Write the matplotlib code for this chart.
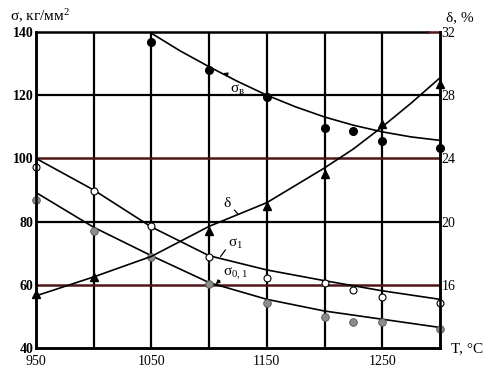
import matplotlib
matplotlib.use("Agg")
import matplotlib.pyplot as plt
import numpy as np

plt.rcParams['font.family'] = ['Liberation Serif', 'DejaVu Serif']
plt.rcParams['mathtext.fontset'] = 'custom'
plt.rcParams['mathtext.rm'] = 'Liberation Serif'
plt.rcParams['mathtext.it'] = 'Liberation Serif'
plt.rcParams['mathtext.bf'] = 'Liberation Serif:bold'

# ---- data ----
# sigma_B (ultimate strength), black filled circles, left axis
sb_T = [1050, 1100, 1150, 1200, 1225, 1250, 1300]
sb_v = [136.8, 128.0, 119.5, 109.6, 108.7, 105.4, 103.3]
sb_curve_T = [1050, 1075, 1100, 1125, 1150, 1175, 1200, 1225, 1250, 1275, 1300]
sb_curve_v = [139.6, 134.0, 129.0, 124.3, 120.0, 116.3, 113.1, 110.5, 108.4, 106.8, 105.7]

# delta (elongation, %), triangles, right axis
d_T = [950, 1000, 1100, 1150, 1200, 1250, 1300]
d_v = [15.4, 16.5, 19.4, 21.0, 23.0, 26.2, 28.7]
d_curve_T = [950, 1000, 1050, 1100, 1150, 1200, 1225, 1250, 1275, 1300]
d_curve_v = [15.3, 16.5, 17.8, 19.7, 21.2, 23.4, 24.6, 26.0, 27.5, 29.1]

# sigma_1, open circles, left axis
s1_T = [950, 1000, 1050, 1100, 1150, 1200, 1225, 1250, 1300]
s1_v = [97.2, 89.6, 78.7, 68.7, 62.3, 60.7, 58.3, 56.2, 54.1]
s1_curve_T = [950, 1000, 1050, 1100, 1150, 1200, 1250, 1300]
s1_curve_v = [100.0, 90.0, 78.3, 69.2, 64.7, 61.3, 58.1, 55.4]

# sigma_0.1, grey circles, left axis
s01_T = [950, 1000, 1050, 1100, 1150, 1200, 1225, 1250, 1300]
s01_v = [86.7, 76.9, 68.7, 60.4, 54.1, 49.8, 48.3, 48.3, 46.0]
s01_curve_T = [950, 1000, 1050, 1100, 1150, 1200, 1250, 1300]
s01_curve_v = [89.2, 78.2, 69.2, 60.7, 55.4, 51.7, 49.1, 46.5]

left_ticks = [40, 60, 80, 100, 120, 140]
right_ticks = [16, 20, 24, 28, 32]
x_ticks = [950, 1050, 1150, 1250]

# ---- figure ----
fig = plt.figure(figsize=(4.94, 3.72), dpi=100)
ax = fig.add_axes([36/494, 1-348/372, (440-36)/494, (348-32)/372])
ax.set_xlim(950, 1300)
ax.set_ylim(40, 140)
ax2 = ax.twinx()
ax2.set_ylim(12, 32)

maroon = '#4e1616'
# grid
for xv in [1000, 1050, 1100, 1150, 1200, 1250]:
    ax.axvline(xv, color='black', lw=1.6, zorder=1)
for yv in [80, 120]:
    ax.axhline(yv, color='black', lw=1.6, zorder=1)
for yv in [60, 100]:
    ax.axhline(yv, color=maroon, lw=1.8, zorder=1)

for a in (ax, ax2):
    for s in a.spines.values():
        s.set_linewidth(1.8)
        s.set_color('black')
    a.spines['top'].set_visible(False)
ax.plot([950, 1290], [140, 140], color='black', lw=1.8, zorder=2, clip_on=False)
ax.plot([1290, 1300], [140, 140], color=maroon, lw=1.8, zorder=2, clip_on=False)

# curves
ax.plot(sb_curve_T, sb_curve_v, color='black', lw=1.2, zorder=3)
ax.plot(s1_curve_T, s1_curve_v, color='black', lw=1.2, zorder=3)
ax.plot(s01_curve_T, s01_curve_v, color='black', lw=1.2, zorder=3)
ax2.plot(d_curve_T, d_curve_v, color='black', lw=1.2, zorder=3)

# markers
ax.plot(sb_T, sb_v, 'o', color='black', ms=5.5, zorder=4, clip_on=False)
ax.plot(s1_T, s1_v, 'o', mfc='white', mec='black', mew=0.8, ms=5, zorder=4, clip_on=False)
ax.plot(s01_T, s01_v, 'o', mfc='#8c8c8c', mec='#505050', mew=0.6, ms=5.5, zorder=4, clip_on=False)
ax2.plot(d_T, d_v, '^', color='black', ms=5.5, zorder=4, clip_on=False)

# ticks
ax.set_xticks(x_ticks)
ax.set_xticklabels([str(t) for t in x_ticks], fontsize=10)
ax.set_yticks(left_ticks)
ax.set_yticklabels([str(t) for t in left_ticks], fontsize=10, fontweight='bold')
ax2.set_yticks(right_ticks)
ax2.set_yticklabels([str(t) for t in right_ticks], fontsize=10)
ax.tick_params(axis='both', length=0)
ax2.tick_params(axis='y', length=0, pad=1)
ax.tick_params(axis='y', pad=2)
ax.tick_params(axis='x', pad=5)

# axis titles
fig.text(10/494, 1-21/372, 'σ, кг/мм$^{2}$', fontsize=11, ha='left', va='baseline')
fig.text(446/494, 1-21/372, 'δ, %', fontsize=11, ha='left', va='baseline')
fig.text(451/494, 1-352/372, 'T, °C', fontsize=11, ha='left', va='baseline')

# curve labels
ax.text(1118, 120.8, 'σ$_{\\mathrm{в}}$', fontsize=11, ha='left', va='baseline', zorder=5)
ax.annotate('', xy=(1110, 127.3), xytext=(1117, 126.4),
            arrowprops=dict(arrowstyle='-|>', lw=0.8, color='black', mutation_scale=6))
ax.text(1112, 84.5, 'δ', fontsize=11, ha='left', va='baseline', zorder=5)
ax.plot([1122, 1125], [83.6, 82.4], color='black', lw=0.9, zorder=5)
ax.text(1116, 72.0, 'σ$_{1}$', fontsize=11, ha='left', va='baseline', zorder=5)
ax.plot([1114, 1110], [71.0, 69.0], color='black', lw=0.9, zorder=5)
ax.text(1112, 62.6, 'σ$_{0,1}$', fontsize=11, ha='left', va='baseline', zorder=5)
ax.annotate('', xy=(1104, 59.6), xytext=(1111, 62.0),
            arrowprops=dict(arrowstyle='-|>', lw=0.8, color='black', mutation_scale=6))

fig.savefig('out.png', dpi=100)
